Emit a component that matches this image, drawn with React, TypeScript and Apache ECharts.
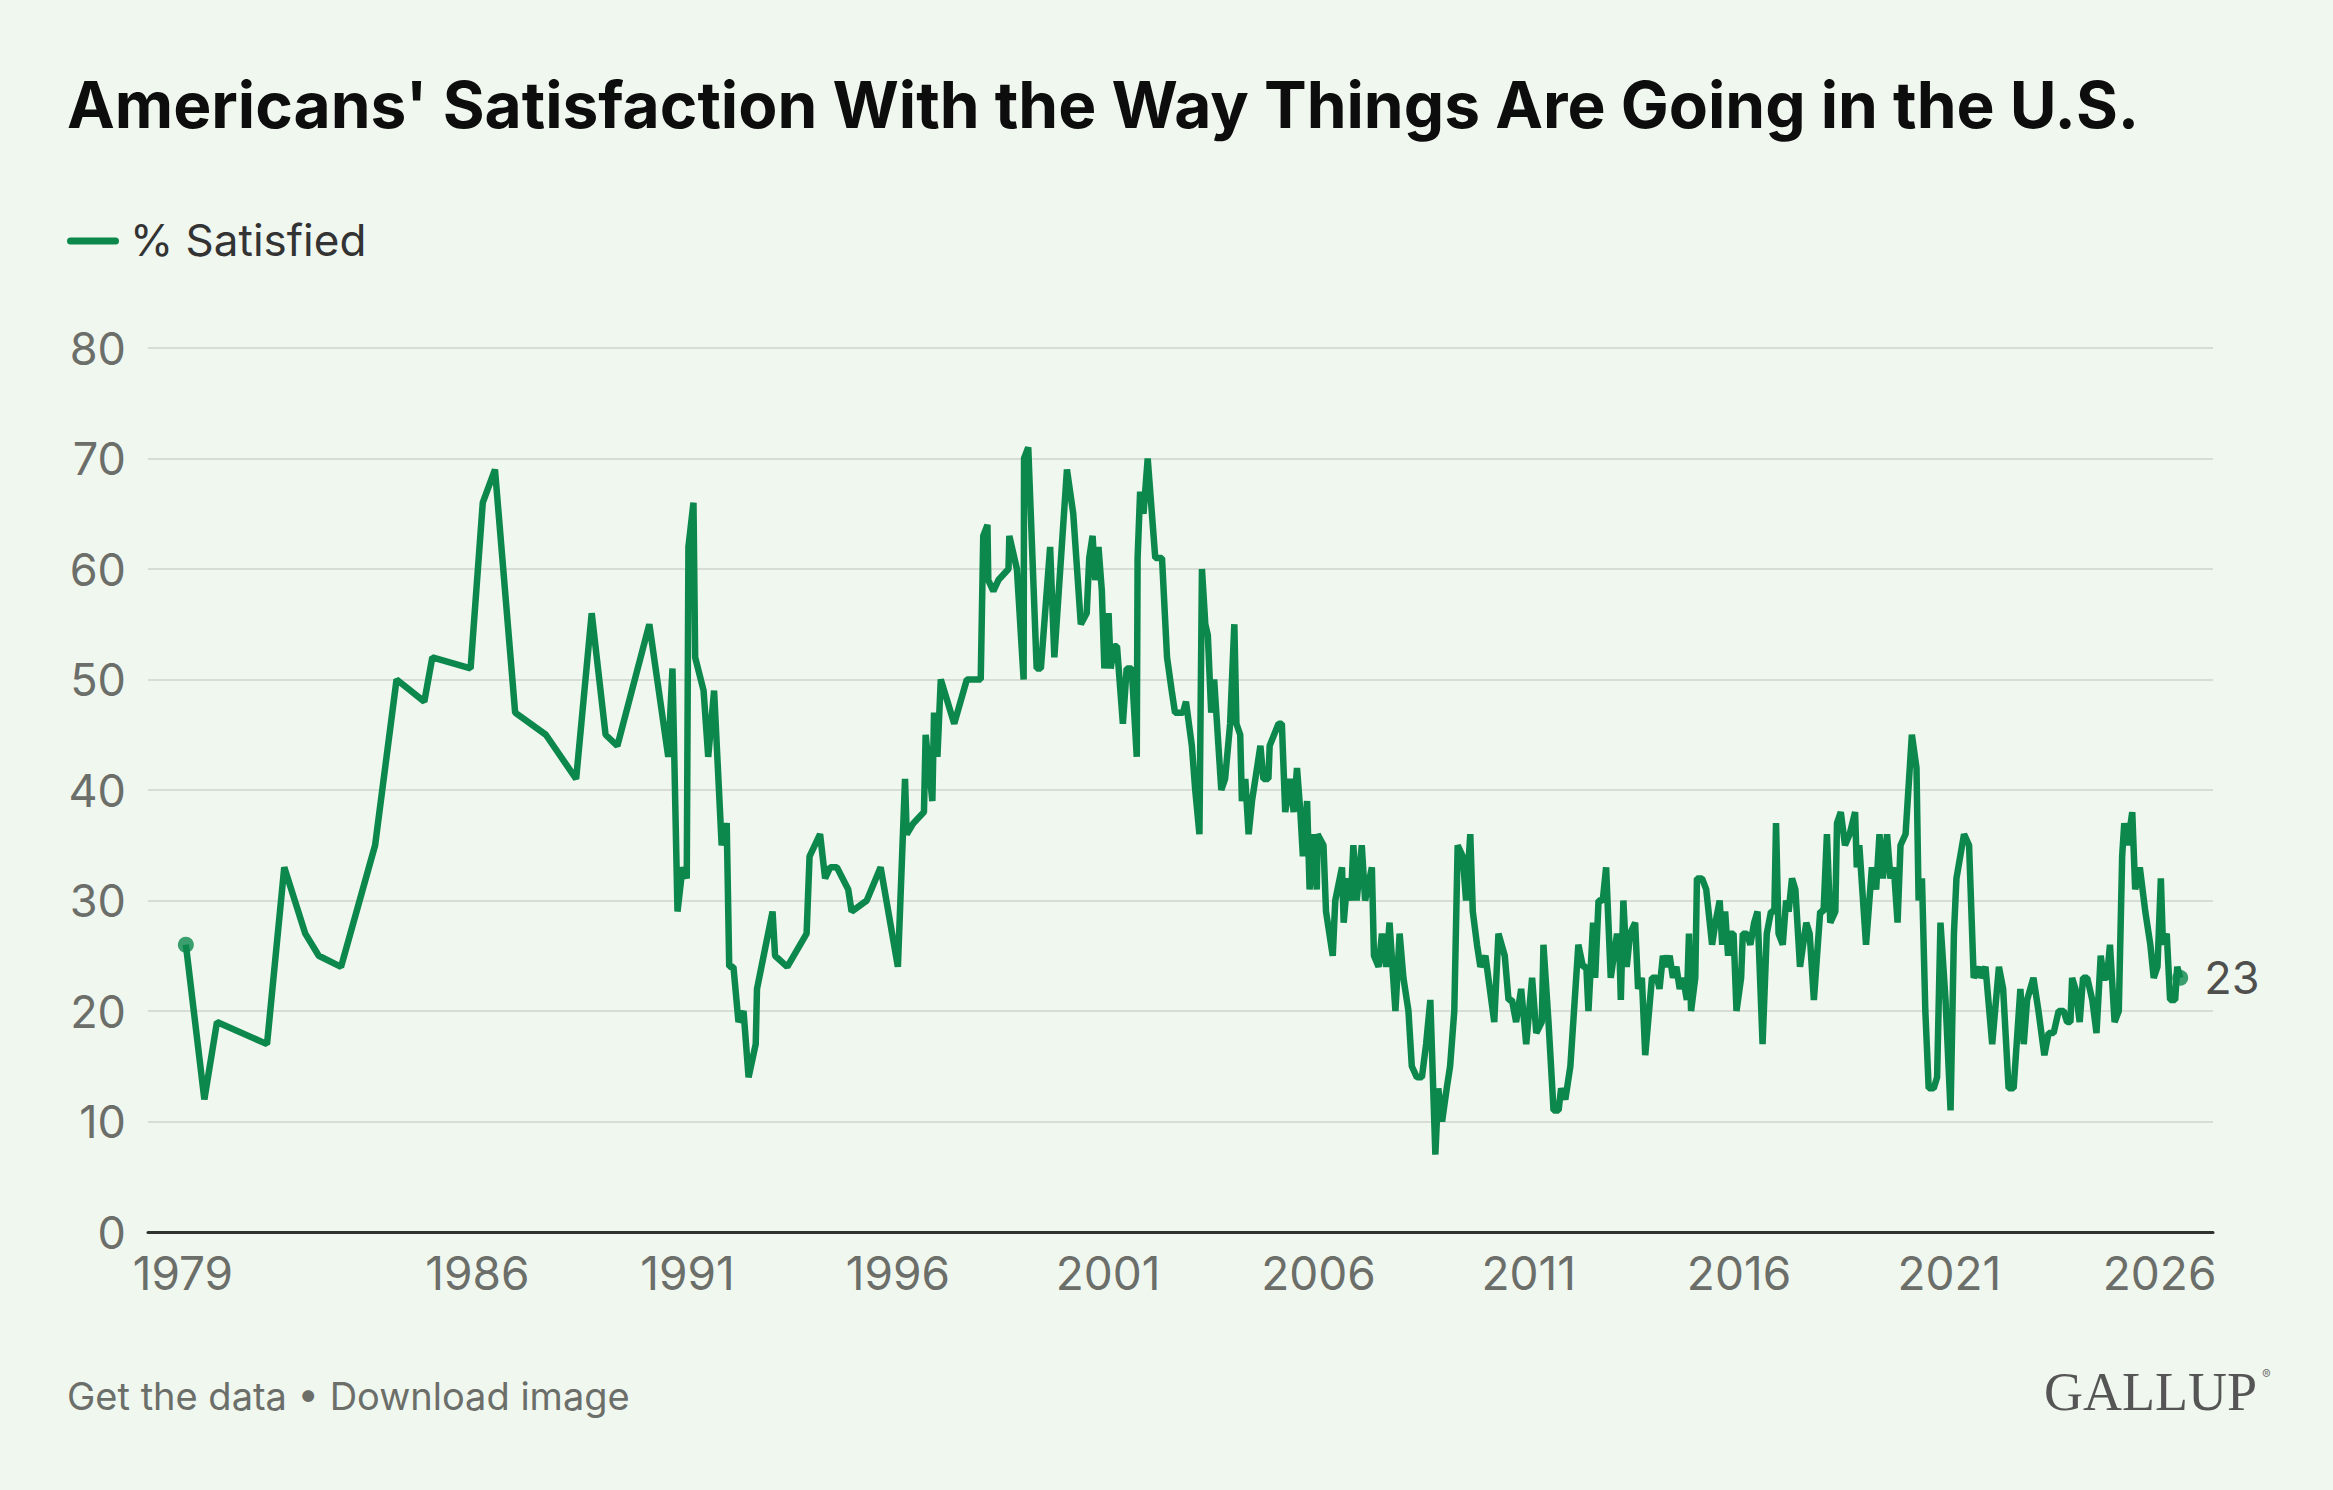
import { useEffect, useRef } from 'react';
import * as echarts from 'echarts';

// [poll date as decimal year, % satisfied]
const polls1979to1989: [number, number][] = [
  [1979.07, 26], [1979.51, 12], [1979.81, 19], [1981.0, 17], [1981.41, 33], [1981.91, 27],
  [1982.23, 25], [1982.76, 24], [1983.57, 35], [1984.08, 50], [1984.74, 48], [1984.93, 52],
  [1985.84, 51], [1986.13, 66], [1986.42, 69], [1986.9, 47], [1987.63, 45], [1988.35, 41],
  [1988.72, 56], [1989.05, 45], [1989.33, 44],
];

const polls1990s: [number, number][] = [
  [1990.09, 55], [1990.54, 43], [1990.64, 51], [1990.76, 29], [1990.88, 33], [1990.98, 32],
  [1991.02, 62], [1991.14, 66], [1991.18, 52], [1991.38, 49], [1991.49, 43], [1991.63, 49],
  [1991.81, 35], [1991.93, 37], [1991.99, 24], [1992.09, 24], [1992.21, 19], [1992.33, 20],
  [1992.45, 14], [1992.62, 17], [1992.65, 22], [1993.02, 29], [1993.08, 25], [1993.37, 24],
  [1993.83, 27], [1993.9, 34], [1994.15, 36], [1994.27, 32], [1994.39, 33], [1994.55, 33],
  [1994.82, 31], [1994.9, 29], [1995.26, 30], [1995.59, 33], [1996.0, 24], [1996.17, 41],
  [1996.21, 36], [1996.37, 37], [1996.62, 38], [1996.66, 45], [1996.82, 39], [1996.86, 47],
  [1996.94, 43], [1997.02, 50], [1997.34, 46], [1997.64, 50], [1997.97, 50], [1998.03, 63],
  [1998.13, 64], [1998.15, 59], [1998.27, 58], [1998.39, 59], [1998.63, 60], [1998.65, 63],
  [1998.83, 60], [1998.99, 50], [1999.0, 70], [1999.1, 71], [1999.3, 51], [1999.4, 51],
  [1999.62, 62], [1999.72, 52],
];

const polls2000s: [number, number][] = [
  [2000.02, 69], [2000.17, 65], [2000.35, 55], [2000.49, 56], [2000.55, 61], [2000.63, 63],
  [2000.69, 59], [2000.77, 62], [2000.85, 58], [2000.91, 51], [2001.01, 56], [2001.06, 51],
  [2001.14, 53], [2001.21, 53], [2001.35, 46], [2001.44, 51], [2001.56, 51], [2001.68, 43],
  [2001.7, 61], [2001.76, 67], [2001.84, 65], [2001.94, 70], [2002.12, 61], [2002.28, 61],
  [2002.4, 52], [2002.51, 49], [2002.59, 47], [2002.78, 47], [2002.85, 48], [2002.99, 44],
  [2003.07, 40], [2003.17, 36], [2003.23, 60], [2003.31, 55], [2003.37, 54], [2003.45, 47],
  [2003.52, 50], [2003.69, 40], [2003.78, 41], [2003.9, 46], [2004.0, 55], [2004.05, 46],
  [2004.14, 45], [2004.18, 39], [2004.26, 41], [2004.34, 36], [2004.42, 39], [2004.62, 44],
  [2004.69, 41], [2004.81, 41], [2004.84, 44], [2005.05, 46], [2005.13, 46], [2005.21, 38],
  [2005.33, 41], [2005.41, 38], [2005.49, 42], [2005.57, 38], [2005.63, 34], [2005.73, 39],
  [2005.79, 31], [2005.87, 36], [2005.96, 31], [2005.98, 36], [2006.12, 35], [2006.18, 29],
  [2006.34, 25], [2006.4, 30], [2006.56, 33], [2006.6, 28], [2006.69, 32], [2006.77, 30],
  [2006.83, 35], [2006.91, 30], [2007.03, 35], [2007.11, 30], [2007.27, 33], [2007.32, 25],
  [2007.43, 24], [2007.51, 27], [2007.61, 24], [2007.69, 28], [2007.83, 20], [2007.93, 27],
  [2008.02, 23], [2008.14, 20], [2008.22, 15], [2008.34, 14], [2008.46, 14], [2008.56, 17],
  [2008.66, 21], [2008.78, 7], [2008.85, 13], [2008.94, 10], [2009.05, 13], [2009.13, 15],
  [2009.23, 20], [2009.31, 35], [2009.43, 34], [2009.51, 30], [2009.61, 36], [2009.67, 29],
  [2009.77, 26], [2009.85, 24], [2009.97, 25],
];

const polls2010s: [number, number][] = [
  [2010.18, 19], [2010.28, 27], [2010.43, 25], [2010.52, 21], [2010.6, 21], [2010.7, 19],
  [2010.82, 22], [2010.94, 17], [2011.08, 23], [2011.18, 18], [2011.31, 19], [2011.35, 26],
  [2011.47, 19], [2011.59, 11], [2011.71, 11], [2011.77, 13], [2011.87, 12], [2011.99, 15],
  [2012.18, 26], [2012.29, 24], [2012.37, 24], [2012.42, 20], [2012.53, 28], [2012.58, 23],
  [2012.66, 30], [2012.76, 30], [2012.84, 33], [2012.95, 23], [2013.1, 27], [2013.16, 25],
  [2013.19, 21], [2013.25, 30], [2013.33, 24], [2013.41, 27], [2013.53, 28], [2013.6, 22],
  [2013.69, 23], [2013.77, 16], [2013.93, 23], [2014.05, 23], [2014.11, 22], [2014.19, 25],
  [2014.27, 24], [2014.35, 25], [2014.43, 23], [2014.51, 24], [2014.59, 22], [2014.67, 23],
  [2014.76, 21], [2014.81, 27], [2014.86, 20], [2014.96, 23], [2015.0, 32], [2015.12, 32],
  [2015.22, 31], [2015.36, 26], [2015.44, 28], [2015.54, 30], [2015.6, 26], [2015.67, 29],
  [2015.74, 25], [2015.79, 27], [2015.87, 27], [2015.94, 20], [2016.05, 23], [2016.09, 27],
  [2016.19, 27], [2016.27, 26], [2016.36, 28], [2016.44, 29], [2016.56, 17], [2016.66, 27],
  [2016.76, 29], [2016.84, 29], [2016.88, 37], [2016.94, 27], [2017.04, 26], [2017.12, 30],
  [2017.18, 29], [2017.26, 32], [2017.34, 31], [2017.45, 24], [2017.6, 28], [2017.68, 27],
  [2017.78, 21], [2017.93, 29], [2018.01, 29], [2018.09, 36], [2018.17, 28], [2018.29, 29],
  [2018.33, 37], [2018.42, 38], [2018.52, 35], [2018.63, 36], [2018.76, 38], [2018.8, 33],
  [2018.86, 35], [2019.02, 26], [2019.16, 33], [2019.26, 31], [2019.34, 36], [2019.42, 32],
  [2019.52, 36], [2019.6, 32], [2019.68, 33], [2019.77, 28], [2019.84, 35], [2019.96, 36],
];

const polls2020s: [number, number][] = [
  [2020.11, 45], [2020.22, 42], [2020.27, 30], [2020.35, 32], [2020.43, 20], [2020.51, 13],
  [2020.63, 13], [2020.71, 14], [2020.79, 28], [2020.91, 21], [2021.03, 11], [2021.11, 27],
  [2021.17, 32], [2021.35, 36], [2021.47, 35], [2021.58, 23], [2021.7, 24], [2021.74, 23],
  [2021.86, 24], [2022.02, 17], [2022.18, 24], [2022.28, 22], [2022.41, 13], [2022.53, 13],
  [2022.69, 22], [2022.77, 17], [2022.85, 21], [2023.0, 23], [2023.12, 20], [2023.26, 16],
  [2023.36, 18], [2023.48, 18], [2023.6, 20], [2023.72, 20], [2023.8, 19], [2023.88, 19],
  [2023.92, 23], [2024.0, 22], [2024.1, 19], [2024.18, 23], [2024.28, 23], [2024.4, 21],
  [2024.5, 18], [2024.6, 25], [2024.67, 23], [2024.75, 23], [2024.82, 26], [2024.93, 19],
  [2025.03, 20], [2025.11, 34], [2025.16, 37], [2025.24, 35], [2025.35, 38], [2025.42, 31],
  [2025.53, 33], [2025.66, 29], [2025.78, 26], [2025.86, 23], [2025.95, 24], [2026.03, 32],
  [2026.08, 26], [2026.17, 27], [2026.25, 21], [2026.37, 21], [2026.42, 24], [2026.49, 23],
];

const yearTicks = [1979, 1986, 1991, 1996, 2001, 2006, 2011, 2016, 2021, 2026];

const GREEN = '#0c884c';
const BG = '#f0f7ef';
const FONT = 'Inter, "Noto Sans", sans-serif';

const App = () => {
  const chartRef = useRef<HTMLDivElement | null>(null);

  useEffect(() => {
    document.body.style.margin = '0';
    document.body.style.background = BG;
    document.body.style.overflow = 'hidden';
    if (!chartRef.current) return undefined;
    const chart = echarts.init(chartRef.current, undefined, { renderer: 'svg' });

    const polls = [...polls1979to1989, ...polls1990s, ...polls2000s, ...polls2010s, ...polls2020s];
    const first = polls[0];
    const last = polls[polls.length - 1];

    chart.setOption({
      animation: false,
      backgroundColor: BG,
      grid: { left: 148, right: 120, top: 348, bottom: 258, containLabel: false },
      xAxis: {
        type: 'value',
        min: 1978.17,
        max: 2027.27,
        splitLine: { show: false },
        axisTick: { show: false },
        axisLine: { show: true, lineStyle: { color: '#2f322f', width: 3 } },
        axisLabel: {
          customValues: yearTicks,
          formatter: (v: number) => String(v),
          color: '#6b6e69',
          fontFamily: FONT,
          fontSize: 46,
          margin: 18,
        },
      },
      yAxis: {
        type: 'value',
        min: 0,
        max: 80,
        interval: 10,
        axisLine: { show: false },
        axisTick: { show: false },
        axisLabel: { color: '#6b6e69', fontFamily: FONT, fontSize: 45, margin: 22 },
        splitLine: { show: true, lineStyle: { color: '#d7dcd5', width: 2 } },
      },
      series: [
        {
          type: 'line',
          data: polls,
          showSymbol: false,
          symbol: 'none',
          lineStyle: { color: GREEN, width: 6.5 },
          itemStyle: { color: GREEN },
          z: 3,
        },
        {
          type: 'scatter',
          symbolSize: 16,
          itemStyle: { color: GREEN },
          z: 4,
          data: [
            { value: first },
            {
              value: last,
              label: {
                show: true,
                position: 'right',
                distance: 16,
                formatter: String(last[1]),
                color: '#222',
                fontFamily: FONT,
                fontSize: 45,
              },
            },
          ],
        },
      ],
      graphic: [
        {
          type: 'text',
          x: 67,
          y: 104,
          style: {
            text: "Americans' Satisfaction With the Way Things Are Going in the U.S.",
            fontFamily: FONT,
            fontWeight: 'bold',
            fontSize: 64,
            fill: '#0d0d0d',
            align: 'left',
            verticalAlign: 'middle',
          },
        },
        {
          type: 'line',
          shape: { x1: 70.5, y1: 241, x2: 115.5, y2: 241 },
          style: { stroke: GREEN, lineWidth: 7, lineCap: 'round' },
        },
        {
          type: 'text',
          x: 130,
          y: 240,
          style: {
            text: '% Satisfied',
            fontFamily: FONT,
            fontSize: 44,
            fill: '#333',
            align: 'left',
            verticalAlign: 'middle',
          },
        },
        {
          type: 'text',
          x: 67,
          y: 1396,
          style: {
            text: 'Get the data • Download image',
            fontFamily: FONT,
            fontSize: 38,
            fill: '#6b6e69',
            align: 'left',
            verticalAlign: 'middle',
          },
        },
        {
          type: 'text',
          x: 2044,
          y: 1392,
          style: {
            text: 'GALLUP',
            fontFamily: '"Liberation Serif", "DejaVu Serif", serif',
            fontSize: 54,
            fill: '#555',
            align: 'left',
            verticalAlign: 'middle',
          },
        },
        {
          type: 'text',
          x: 2262,
          y: 1374,
          style: {
            text: '®',
            fontFamily: FONT,
            fontSize: 13,
            fill: '#777',
            align: 'left',
            verticalAlign: 'middle',
          },
        },
      ],
    });

    return () => {
      chart.dispose();
    };
  }, []);

  return <div ref={chartRef} style={{ width: 2333, height: 1490, background: BG }} />;
};

export default App;
